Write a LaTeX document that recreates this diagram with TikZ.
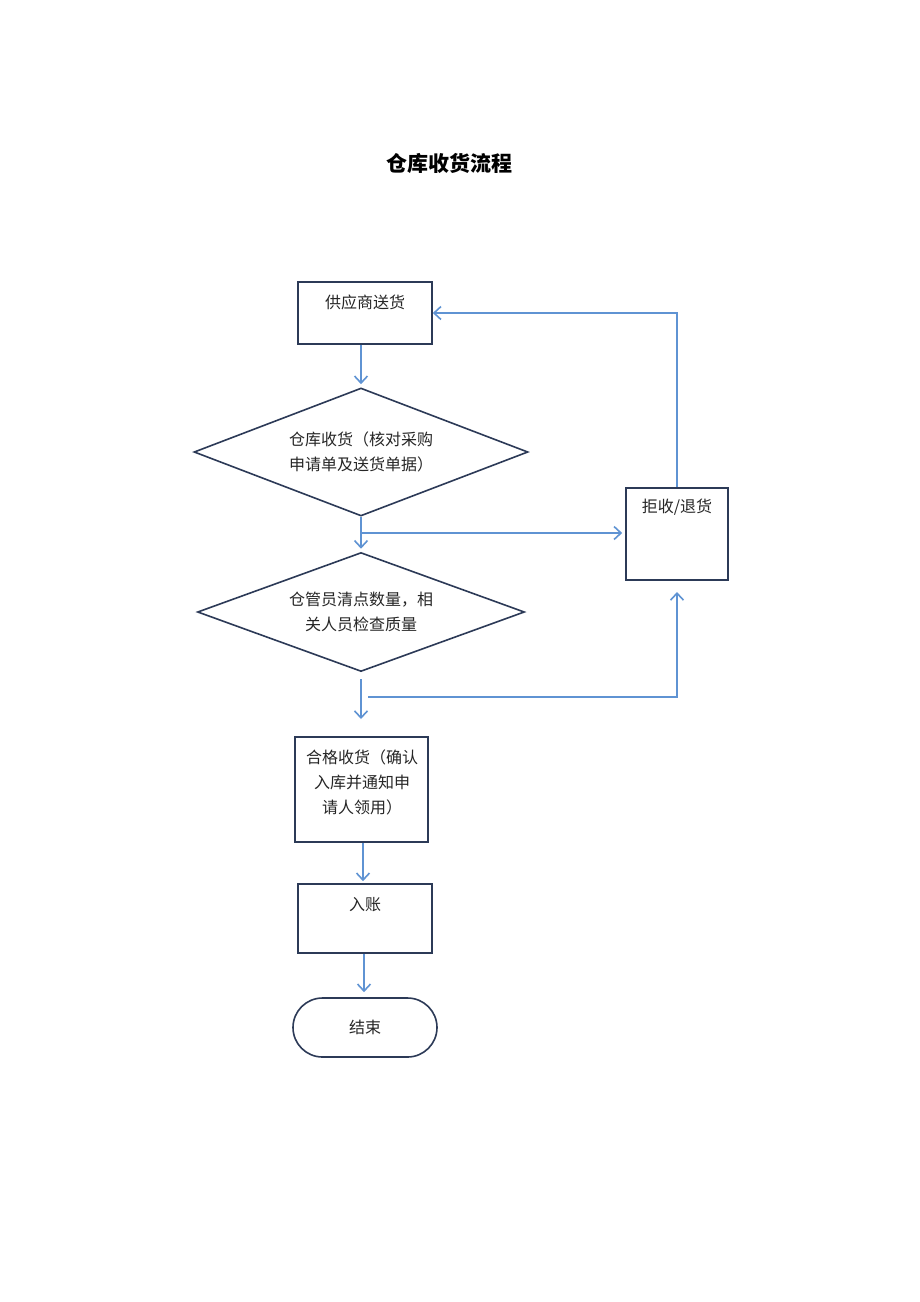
\documentclass[tikz,border=0pt]{standalone}
\usepackage{fontspec}
\setmainfont{Noto Sans CJK SC}
\usetikzlibrary{arrows.meta,shapes.geometric,calc}
\definecolor{boxc}{HTML}{2C3A57}
\definecolor{arrc}{HTML}{5F93D3}
\begin{document}
\begin{tikzpicture}[x=1pt,y=-1pt,
  box/.style={draw=boxc, line width=1.6pt, fill=white, inner sep=0pt},
  dia/.style={diamond, draw=boxc, line width=1.6pt, inner sep=0pt, aspect=2.6, align=center, font=\fontsize{16}{25}\selectfont, text=black!85},
  txt/.style={font=\fontsize{16}{25}\selectfont, inner sep=0pt, align=center, text=black!85},
  ln/.style={draw=arrc, line width=1.6pt},
  arr/.style={draw=arrc, line width=1.6pt, -{Straight Barb[length=7pt,width=13pt]}}]
\useasboundingbox (0,0) rectangle (920,1302);
\fill[white] (0,0) rectangle (920,1302);

\node[font=\fontsize{21}{25}\selectfont\bfseries] (title) at (449,163) {仓库收货流程};

\node[box, minimum width=134, minimum height=62] (b1) at (365,313) {};
\node[txt] (b1t) at ($(b1.north)+(0,21)$) {供应商送货};

\node[dia, minimum width=334, minimum height=128, align=left] (d1) at (361,452) {仓库收货（核对采购\\申请单及送货单据）};
\node[dia, minimum width=327, minimum height=119] (d2) at (361,612) {仓管员清点数量，相\\关人员检查质量};

\node[box, minimum width=102, minimum height=92] (rej) at (677,534) {};
\node[txt] (rejt) at ($(rej.north)+(0,20)$) {拒收/退货};

\node[box, minimum width=133, minimum height=105] (b3) at (361.5,789.5) {};
\node[txt] (b3t) at (362,782) {合格收货（确认\\入库并通知申\\请人领用）};

\node[box, minimum width=134, minimum height=69] (b4) at (365,918.5) {};
\node[txt] (b4t) at ($(b4.north)+(0,21)$) {入账};

\node[box, rounded corners=29.5pt, minimum width=144, minimum height=59, txt] (end) at (365,1027.5) {结束};

% connectors
\draw[arr, shorten >=3pt] (b1.south -| d1.north) -- (d1.north);
\coordinate (j1) at (361,533);
\draw[ln] (d1.south) -- (j1);
\draw[arr, shorten >=3pt] (j1) -- (d2.north);
\draw[arr, shorten >=3pt] (j1) -- (j1 -| rej.west);
\draw[arr] (rej.north) |- (b1.east);
\coordinate (a2s) at (361,679);
\coordinate (a2e) at (361,719);
\draw[arr] (a2s) -- (a2e);
\coordinate (r0) at (368,697);
\coordinate (r1) at (677,592);
\draw[arr] (r0) -| (r1);
\draw[arr, shorten >=2pt] (b3.south) ++(1.5,0) coordinate (s3) -- (s3 |- b4.north);
\draw[arr, shorten >=5pt] (b4.south) ++(-1,0) coordinate (s4) -- (s4 |- end.north);
\end{tikzpicture}
\end{document}
